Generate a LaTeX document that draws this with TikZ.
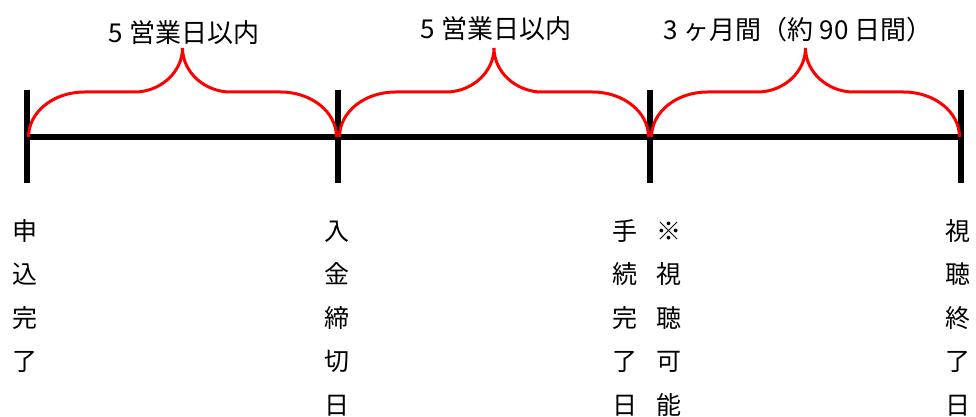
\documentclass[tikz,border=0pt]{standalone}
\usepackage{fontspec}
\setmainfont{Noto Sans CJK JP}
\begin{document}
\begin{tikzpicture}[x=1pt,y=-1pt,
  axis/.style={line width=5.5pt, black},
  bracecurve/.style={red, line width=3pt},
  lbl/.style={font=\fontsize{26}{30}\selectfont, inner sep=0pt, anchor=base},
  vlbl/.style={font=\fontsize{25}{30}\selectfont, inner sep=0pt, anchor=base}]
\useasboundingbox (0,0) rectangle (976,417);
% ticks
\coordinate (t1) at (27,137);
\coordinate (t2) at (338,137);
\coordinate (t3) at (650,137);
\coordinate (t4) at (961,137);
\draw[axis] (t1) -- (t4);
\foreach \t in {t1,t2,t3,t4}
  \draw[axis] (\t) ++(0,-47) -- ++(0,93);
% braces
\foreach \a/\b in {28.5/336.5, 339.5/648.5, 651.5/959.5}{
  \pgfmathsetmacro{\m}{(\a+\b)/2}
  \pgfmathsetmacro{\pa}{\a+56}
  \pgfmathsetmacro{\pac}{\a+25}
  \pgfmathsetmacro{\pb}{\m-48}
  \pgfmathsetmacro{\pbc}{\m-22}
  \pgfmathsetmacro{\qa}{\b-56}
  \pgfmathsetmacro{\qac}{\b-25}
  \pgfmathsetmacro{\qb}{\m+48}
  \pgfmathsetmacro{\qbc}{\m+22}
  \draw[bracecurve] (\a,137) .. controls (\a,112) and (\pac,92) .. (\pa,92)
    -- (\pb,92) .. controls (\pbc,92) and (\m,72) .. (\m,48)
    .. controls (\m,72) and (\qbc,92) .. (\qb,92)
    -- (\qa,92) .. controls (\qac,92) and (\b,112) .. (\b,137);
}
% headings
\node[lbl] (h1) at (184,43) {5 営業日以内};
\node[lbl] (h2) at (496,39) {5 営業日以内};
\node[lbl] (h3) at (798,40) {3 ヶ月間（約 90 日間）};
% vertical labels
\foreach \c [count=\i] in {申,込,完,了}
  \node[vlbl] (a\i) at (25,{240+43.5*(\i-1)}) {\c};
\foreach \c [count=\i] in {入,金,締,切,日}
  \node[vlbl] (b\i) at (337,{240+43.5*(\i-1)}) {\c};
\foreach \c [count=\i] in {手,続,完,了,日}
  \node[vlbl] (c\i) at (625,{240+43.5*(\i-1)}) {\c};
\foreach \c [count=\i] in {※,視,聴,可,能}
  \node[vlbl] (d\i) at (669,{240+43.5*(\i-1)}) {\c};
\foreach \c [count=\i] in {視,聴,終,了,日}
  \node[vlbl] (e\i) at (958,{240+43.5*(\i-1)}) {\c};
\end{tikzpicture}
\end{document}
